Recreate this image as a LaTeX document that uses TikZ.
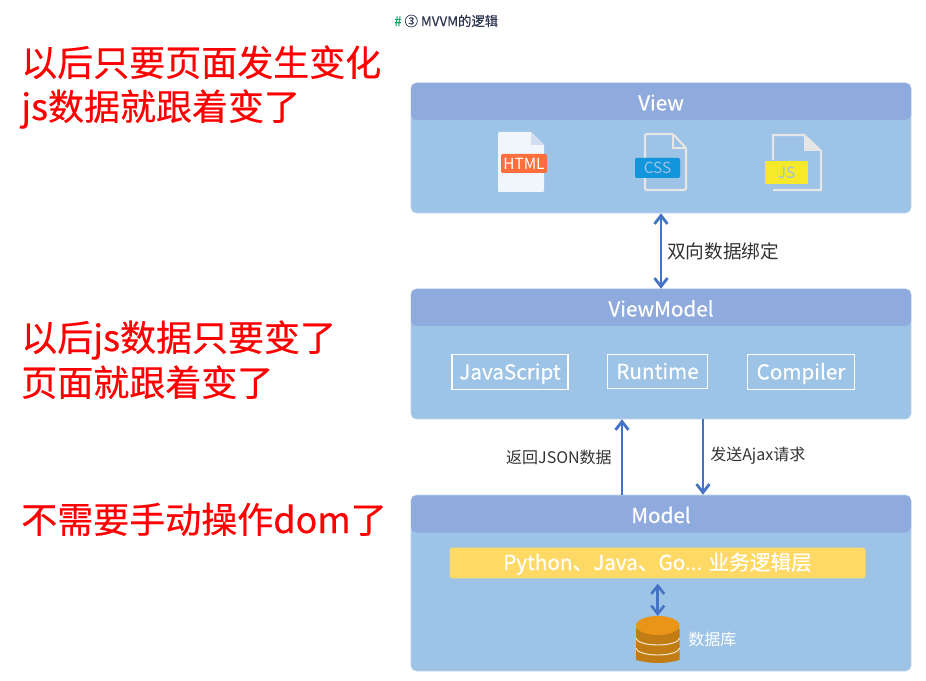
\documentclass[tikz,border=0pt]{standalone}
\usepackage{fontspec}
\setmainfont{Noto Sans CJK SC}
\newfontfamily\medfont[FakeBold=0.35]{Noto Sans CJK SC}
\usepackage{xcolor}
\usetikzlibrary{arrows.meta,positioning}
\definecolor{bodyblue}{HTML}{9DC3E6}
\definecolor{headblue}{HTML}{8FAADC}
\definecolor{arrblue}{HTML}{4472C4}
\definecolor{barsun}{HTML}{FFD966}
\definecolor{docgrey}{HTML}{E7E6E6}
\definecolor{dbtop}{HTML}{EA9418}
\definecolor{dbside}{HTML}{C27C14}
\definecolor{htmltag}{HTML}{FF6F3C}
\definecolor{csstag}{HTML}{1296DB}
\definecolor{jstag}{HTML}{F5E92A}
\definecolor{titleink}{HTML}{2C3550}
\tikzset{
  panel/.style={fill=bodyblue,draw=bodyblue!70!white,rounded corners=4pt,minimum width=375pt,inner sep=0pt},
  head/.style={fill=headblue,rounded corners=4pt,minimum width=375pt,minimum height=27.75pt,inner sep=0pt,
               text=white,text height=16.5pt,text depth=3pt,font=\medfont\fontsize{15.5}{18}\selectfont},
  part/.style={draw=white,line width=0.9pt,text=white,inner sep=0pt,minimum height=26pt,
               text height=14.2pt,text depth=3pt,font=\medfont\fontsize{15.5}{18}\selectfont},
  note/.style={text=red,anchor=west,inner sep=0pt,text height=26pt,text depth=5pt,
               font=\medfont\fontsize{27}{32}\selectfont},
  lbl/.style={text=black!80,inner sep=0pt,font=\fontsize{12}{15}\selectfont},
  tag/.style={rounded corners=1pt,inner sep=0pt,text=white,font=\fontsize{11.5}{13}\selectfont},
  arr/.style={{Straight Barb[length=2.2mm,width=3.4mm]}-{Straight Barb[length=2.2mm,width=3.4mm]},line width=2.1pt,arrblue},
  uarr/.style={-{Straight Barb[length=2.2mm,width=3.4mm]},line width=2.1pt,arrblue},
}
\begin{document}
\begin{tikzpicture}[x=0.75pt,y=-0.75pt]
  \useasboundingbox (0,0) rectangle (926,681);
  \node[inner sep=0pt,anchor=west,text=titleink,font=\medfont\fontsize{10}{12}\selectfont] (title) at (394,21)
     {\textcolor{teal!70!green}{\#} ③ MVVM的逻辑};
  % left remarks
  \node[note] (n1) at (21,62) {以后只要页面发生变化};
  \node[note] (n2) at (21,106) {js数据就跟着变了};
  \node[note] (n3) at (21,337) {以后js数据只要变了};
  \node[note] (n4) at (21,382) {页面就跟着变了};
  \node[note] (n5) at (21,519) {不需要手动操作dom了};
  % panels
  \node[panel,minimum height=97.5pt] (view) at (661,148) {};
  \node[head] (viewhd) at (661,101.5) {View};
  \node[panel,minimum height=97.5pt] (vm) at (661,354) {};
  \node[head] (vmhd) at (661,307.5) {ViewModel};
  \node[panel,minimum height=132pt] (model) at (661,583) {};
  \node[head] (modelhd) at (661,514) {Model};
  % html file
  \fill[white!85!bodyblue,rounded corners=0.8pt] (498,132) -- (531,132) -- (544,145) -- (544,192) -- (498,192) -- cycle;
  \fill[headblue!40!white] (531,132) -- (544,145) -- (531,145) -- cycle;
  \node[tag,fill=htmltag,minimum width=34.5pt,minimum height=14.25pt] (html) at (524,163.5) {HTML};
  % css file
  \draw[docgrey,line width=1.6pt,rounded corners=1pt] (645,158) -- (645,134) -- (673,134) -- (686,148) -- (686,190) -- (645,190) -- (645,178);
  \draw[docgrey,line width=1.6pt] (673,134) -- (673,148) -- (686,148);
  \node[tag,fill=csstag,text=bodyblue,minimum width=33.75pt,minimum height=15pt] (css) at (657.5,168) {CSS};
  % js file
  \draw[docgrey,line width=1.6pt] (773,160) -- (773,135) -- (804,135) -- (821,151) -- (821,190) -- (773,190);
  \fill[docgrey] (804,135) -- (821,151) -- (804,151) -- cycle;
  \node[tag,fill=jstag,text=bodyblue,rounded corners=0pt,minimum width=32.25pt,minimum height=17.25pt] (js) at (786.5,172.5) {JS};
  % viewmodel parts
  \node[part,minimum width=87pt] (jspart) at (510,372) {JavaScript};
  \node[part,minimum width=75.5pt] (rtpart) at (657.5,371.5) {Runtime};
  \node[part,minimum width=80.5pt] (cppart) at (801,372) {Compiler};
  % model parts
  \node[fill=barsun,rounded corners=2pt,minimum width=312pt,minimum height=23pt,inner sep=0pt,text=white,
        text height=13.5pt,text depth=3pt,font=\medfont\fontsize{15.5}{18}\selectfont] (logic) at (657.5,563) {Python、Java、Go... 业务逻辑层};
  \fill[dbside,rounded corners=3pt] (636,626) -- (636,656) arc[start angle=180,end angle=0,x radius=21.75,y radius=7] -- (679.5,626) -- cycle;
  \foreach \yy in {645,655} {
    \draw[white!85!dbtop,line width=0.7pt] (636,\yy-7) arc[start angle=180,end angle=0,x radius=21.75,y radius=7];
  }
  \fill[dbtop] (657.75,625.5) ellipse[x radius=21.75,y radius=9.5];
  \coordinate (dbtopc) at (657.75,616);
  \node[lbl,anchor=west,text=white] (dbname) at (688,639) {数据库};
  % connectors
  \draw[arr] (view.south) -- (vm.north);
  \node[lbl,anchor=west,font=\fontsize{14}{16}\selectfont] (bind) at (667,251) {双向数据绑定};
  \node[lbl,anchor=east] (back) at (612,457) {返回JSON数据};
  \node[lbl,anchor=west] (send) at (710,456) {发送Ajax请求};
  \coordinate (upx) at (622,457);
  \coordinate (dnx) at (703,457);
  \draw[uarr] (upx |- model.north) -- (upx |- vm.south);
  \draw[uarr] (dnx |- vm.south) -- (dnx |- model.north);
  \draw[arr,line width=1.9pt] (logic.south -| dbtopc) ++(0,5) -- (dbtopc);
\end{tikzpicture}
\end{document}
